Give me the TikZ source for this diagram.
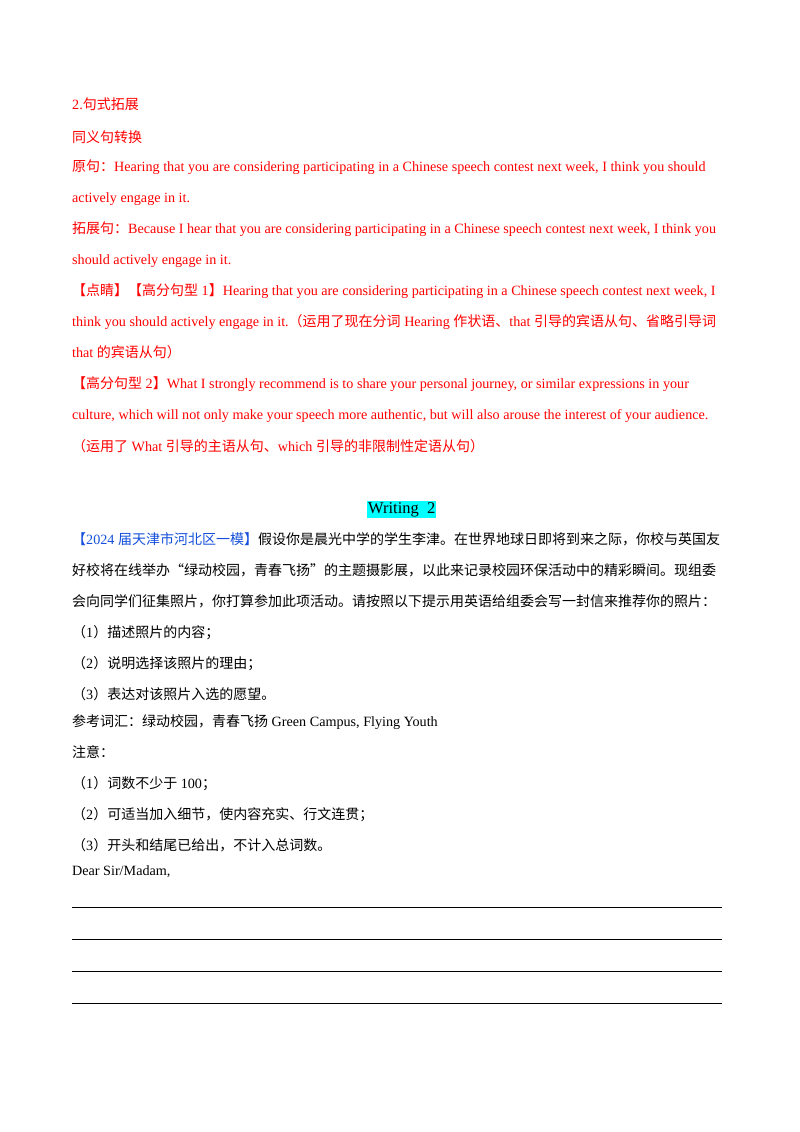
\documentclass[tikz,border=0pt]{standalone}
\usepackage{fontspec}
\setmainfont{Liberation Serif}
\newfontfamily\zhf{Noto Sans CJK SC}
\newcommand{\zh}[1]{{\zhf\fontsize{14}{16}\selectfont #1}}
\definecolor{rd}{RGB}{255,0,0}
\definecolor{bl}{RGB}{20,80,220}
\definecolor{hl}{RGB}{0,255,255}
\begin{document}
\begin{tikzpicture}[x=1pt,y=-1pt,
  t/.style={anchor=base west,inner sep=0pt,font=\fontsize{14.15}{16}\selectfont},
  r/.style={t,text=rd},
  k/.style={t,text=black},
  rule/.style={line width=0.6pt}]
\useasboundingbox (0,0) rectangle (800,1132);
\fill[white] (0,0) rectangle (800,1132);
\node[r] (l1) at (72,109) {2.\zh{句式拓展}};
\node[r] (l2) at (72,142) {\zh{同义句转换}};
\node[r] (l3) at (72,171) {\zh{原句：}Hearing that you are considering participating in a Chinese speech contest next week, I think you should};
\node[r] (l4) at (72,202) {actively engage in it.};
\node[r] (l5) at (72,233) {\zh{拓展句：}Because I hear that you are considering participating in a Chinese speech contest next week, I think you};
\node[r] (l6) at (72,264) {should actively engage in it.};
\node[r] (l7) at (72,295) {\zh{【点睛】【高分句型} 1\zh{】}Hearing that you are considering participating in a Chinese speech contest next week, I};
\node[r] (l8) at (72,326) {think you should actively engage in it.\zh{（运用了现在分词} Hearing \zh{作状语、}that \zh{引导的宾语从句、省略引导词}};
\node[r] (l9) at (72,357) {that \zh{的宾语从句）}};
\node[r] (l10) at (72,388) {\zh{【高分句型} 2\zh{】}What I strongly recommend is to share your personal journey, or similar expressions in your};
\node[r] (l11) at (72,419) {culture, which will not only make your speech more authentic, but will also arouse the interest of your audience.};
\node[r] (l12) at (72,451) {\zh{（运用了} What \zh{引导的主语从句、}which \zh{引导的非限制性定语从句）}};
\node[k,fill=hl,inner sep=1pt,font=\fontsize{16.5}{18}\selectfont] (w) at (367,513) {Writing\ \ 2};
\node[t] (l13) at (72,544) {\textcolor{bl}{\zh{【}2024 \zh{届天津市河北区一模】}}\zh{假设你是晨光中学的学生李津。在世界地球日即将到来之际，你校与英国友}};
\node[k] (l14) at (72,575) {\zh{好校将在线举办“绿动校园，青春飞扬”的主题摄影展，以此来记录校园环保活动中的精彩瞬间。现组委}};
\node[k] (l15) at (72,606) {\zh{会向同学们征集照片，你打算参加此项活动。请按照以下提示用英语给组委会写一封信来推荐你的照片：}};
\node[k] (l16) at (72,637) {\zh{（}1\zh{）描述照片的内容；}};
\node[k] (l17) at (72,668) {\zh{（}2\zh{）说明选择该照片的理由；}};
\node[k] (l18) at (72,699) {\zh{（}3\zh{）表达对该照片入选的愿望。}};
\node[k] (l19) at (72,726) {\zh{参考词汇：绿动校园，青春飞扬} Green Campus, Flying Youth};
\node[k] (l20) at (72,757) {\zh{注意：}};
\node[k] (l21) at (72,788) {\zh{（}1\zh{）词数不少于} 100\zh{；}};
\node[k] (l22) at (72,819) {\zh{（}2\zh{）可适当加入细节，使内容充实、行文连贯；}};
\node[k] (l23) at (72,850) {\zh{（}3\zh{）开头和结尾已给出，不计入总词数。}};
\node[k] (l24) at (72,875) {Dear Sir/Madam,};
\coordinate (a1) at (72,907); \coordinate (b1) at (722,907);
\coordinate (a2) at (72,939); \coordinate (b2) at (722,939);
\coordinate (a3) at (72,971); \coordinate (b3) at (722,971);
\coordinate (a4) at (72,1003); \coordinate (b4) at (722,1003);
\draw[rule] (a1) -- (b1); \draw[rule] (a2) -- (b2);
\draw[rule] (a3) -- (b3); \draw[rule] (a4) -- (b4);
\end{tikzpicture}
\end{document}
